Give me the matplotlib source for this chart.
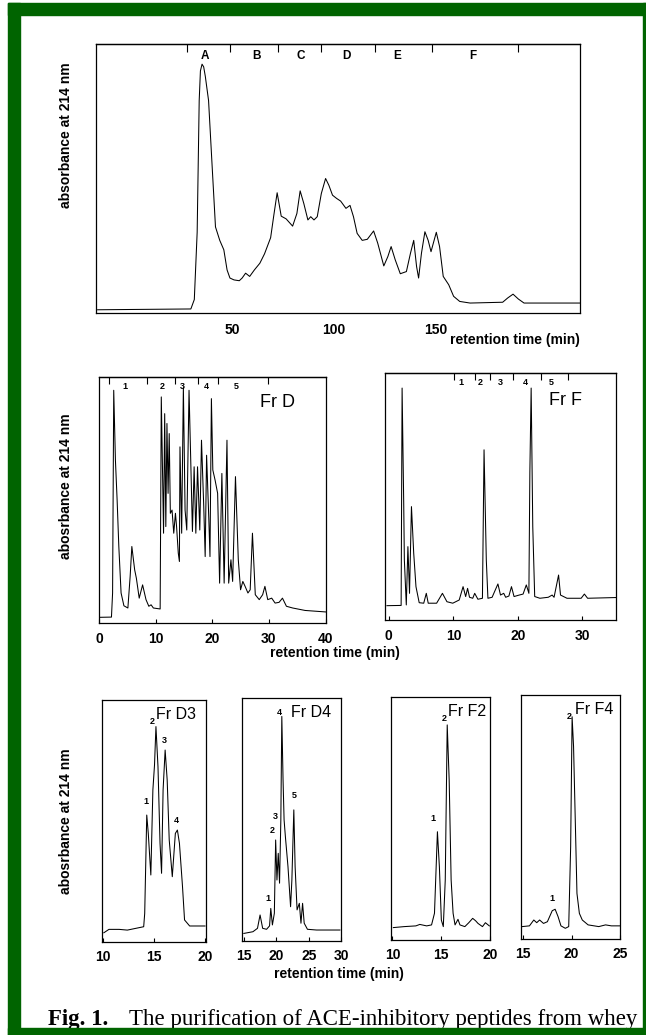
import matplotlib
matplotlib.use("Agg")
import matplotlib.pyplot as plt
from matplotlib.patches import Rectangle

plt.rcParams["font.family"] = ["Liberation Sans", "DejaVu Sans"]
plt.rcParams["font.weight"] = "bold"

W, H = 646, 1035

# --- first separation (whole hydrolysate) ---
top_t = [-16, 29.8, 31.5, 32.9, 33.9, 34.5, 35.3, 36.1, 36.9, 38.5, 40.3, 41.9, 44, 46,
         47.6, 49, 51, 53.6, 55, 56.7, 58.7, 61, 63.7, 66, 69, 70.5, 72.2, 74.2, 76.6,
         79.8, 81.9, 83.5, 85.3, 87.3, 88.7, 90.3, 91.9, 93.9, 96, 97.6, 99.4, 101.4,
         103.4, 106, 108, 109.7, 111.5, 114, 116.5, 119.6, 121.6, 124.6, 126.6, 128.2,
         130.2, 132.7, 135.7, 137.7, 139.3, 140.7, 141.7, 143.1, 144.8, 146.4, 147.8,
         150.4, 152, 153.8, 156.5, 158.9, 161.9, 167, 183, 185.5, 188.1, 190.7, 193.5,
         220.8]
top_a = [1.2, 1.5, 5, 30, 79, 90, 92.5, 91.5, 88, 79, 54, 32, 27, 23.5,
         16, 13, 12.3, 12, 13, 14.8, 13.6, 16, 18.5, 22, 28, 36, 44.7, 36, 35,
         32.3, 37, 45.4, 40.7, 34.6, 35.8, 34.6, 35.8, 44.4, 50, 47.5, 43.8, 42.6,
         41.6, 38.9, 40, 35.8, 29.6, 27, 27.4, 30.5, 26, 17.5, 21, 24.7,
         19.8, 14.6, 15.4, 22.2, 27, 17.3, 13, 22.2, 30.2, 27, 22.8,
         30, 24.7, 13.6, 10.5, 6.2, 4.3, 3.7, 4, 5.6, 7, 5.2, 3.7,
         3.7]
top_ticks = [50, 100, 150]
top_edges = [27.9, 48.9, 72.7, 93.6, 120.2, 148.1, 190.5]
top_names = ["A", "B", "C", "D", "E", "F"]
top_name_x = [36.8, 62.2, 83.9, 106, 131.3, 168.3]

# --- fraction D ---
frd_t = [-0.1, 2.2, 2.4, 2.6, 2.9, 3.2, 3.5, 3.9, 4.4, 5.1, 5.5, 5.8, 6.3, 6.6, 7.1, 7.7,
         8.3, 8.8, 9.2, 9.6, 10.8, 11.0, 11.4, 11.6, 11.8, 12.0, 12.2, 12.4, 12.6, 12.9,
         13.2, 13.5, 13.7, 14.0, 14.2, 14.3, 14.6, 14.9, 15.2, 15.5, 15.9, 16.2, 16.5,
         16.8, 17.1, 17.4, 17.8, 18.1, 18.5, 18.75, 19.0, 19.4, 19.6, 19.85, 20.1, 20.5,
         20.95, 21.3, 21.7, 22.1, 22.6, 22.9, 23.3, 23.6, 24.1, 24.6, 25.0, 25.4, 25.8,
         26.3, 26.7, 27.1, 27.6, 28.3, 28.9, 29.3, 29.8, 30.5, 31.1, 31.8, 32.4, 33.1,
         34.2, 36.4, 40.0]
frd_a = [2.3, 2.4, 12.2, 94.6, 66.2, 50, 31.1, 12.2, 7, 6.1, 18.9, 31.1, 21.6, 18.2, 10.1, 15.5,
         9.5, 6.8, 7.4, 6.1, 5.7, 91.9, 36.5, 85.1, 39.2, 81.1, 52.7, 77, 44.6, 45.9,
         36.5, 44.6, 39.2, 28.4, 25, 71.6, 36.5, 95.9, 45.9, 37.8, 94.6, 66.2, 37.2,
         63.5, 36.5, 63.5, 37.8, 74.3, 47.3, 27, 68.2, 41.9, 27, 91.2, 62.2, 58.1,
         52.7, 16.2, 60.8, 16.2, 74.3, 16.2, 25.7, 16.9, 59.5, 25.7, 13.5, 16.9, 14.9,
         12.2, 13.5, 36.5, 11.5, 9.5, 11.5, 14.9, 9.5, 10.1, 8.1, 8.4, 10.1, 6.8,
         6.1, 5.1, 4.5]
frd_ticks = [0, 10, 20, 30, 40]
frd_edges = [1.7, 8.5, 13.5, 17.5, 21.1, 29.8]
frd_names = ["1", "2", "3", "4", "5"]
frd_name_x = [4.6, 11.1, 14.8, 18.9, 24.3]

# --- fraction F ---
frf_t = [-0.3, 1.9, 2.05, 2.3, 2.4, 2.7, 2.95, 3.2, 3.5, 3.85, 4.2, 4.7, 5.4, 5.8, 6.1, 7.4,
         8.3, 9.0, 9.9, 10.9, 11.5, 11.9, 12.2, 12.5, 13.0, 13.3, 13.8, 14.5, 14.75, 15.1,
         15.35, 16.0, 16.9, 17.3, 17.8, 18.1, 18.6, 19.0, 19.4, 20.2, 20.8, 21.3, 21.7,
         21.85, 22.05, 22.3, 22.6, 23.4, 24.7, 25.3, 25.6, 26.3, 26.6, 27.6, 29.8, 30.3,
         30.8, 35.3]
frf_a = [5.8, 5.9, 93.9, 47.3, 24.3, 6.1, 29.7, 10.8, 45.9, 27, 13.5, 7, 6.8, 10.8, 6.8, 6.8,
         10.8, 7.4, 6.8, 8.1, 13.5, 9.5, 12.8, 9.2, 8.8, 10.8, 8.4, 8.8, 68.9, 24.3,
         8.8, 9.2, 14.6, 10.1, 10.8, 9.2, 9.7, 13.5, 9.5, 10.1, 10.5, 14.2, 10.8,
         60, 93.9, 37.8, 9.5, 8.8, 9.2, 10.1, 9.2, 18.2, 10.1, 8.8, 8.8, 10.5,
         8.8, 9.1]
frf_ticks = [0, 10, 20, 30]
frf_edges = [10.1, 13.3, 15.7, 19.2, 23.6, 27.8]
frf_names = ["1", "2", "3", "4", "5"]
frf_name_x = [11.2, 14.1, 17.3, 21.2, 25.2]

# --- sub-fractions ---
d3_t = [10.1, 10.6, 11.6, 12.4, 13.2, 14.0, 14.1, 14.3, 14.45, 14.7, 14.9, 15.06, 15.2, 15.4,
        15.6, 15.75, 15.9, 16.1, 16.3, 16.5, 16.8, 17.1, 17.3, 17.5, 17.8, 18.0, 18.5, 19.3, 20.0]
d3_a = [3.7, 5.1, 5.1, 4.8, 5.5, 6.2, 11.7, 52.4, 44.8, 27.6, 62.8, 73.1, 89, 72.4,
        40.7, 28.3, 62.8, 79.3, 66.9, 42.1, 26.9, 44.8, 46.2, 40.7, 22.8, 9, 6.5, 6.5, 6.5]
d3_peaks = ["1", "3", "4"]
d3_peak_x = [14.25, 16.0, 17.2]
d3_peak_y = [58, 83.4, 50.3]

d4_t = [15.0, 16.4, 17.1, 17.5, 17.9, 18.5, 18.96, 19.15, 19.4, 19.7, 19.9, 20.1, 20.3, 20.5,
        20.7, 20.85, 21.04, 21.2, 21.4, 21.8, 22.2, 22.4, 22.7, 22.9, 23.2, 23.55, 23.8,
        24.05, 24.3, 24.8, 26.2, 29.8]
d4_a = [3, 3.7, 5.1, 10.6, 5.1, 4.7, 6.1, 13.3, 6.5, 11.3, 41.5, 25, 36, 23.7,
        49.8, 92.4, 66.3, 49.8, 42.9, 30.5, 14, 25, 53.9, 30.5, 12.7, 15.4, 7.2,
        15.4, 7.2, 4.7, 4.4, 4.4]
d4_peaks = ["1", "2", "3", "4", "5"]
d4_peak_x = [18.65, 19.3, 19.9, 20.4, 22.7]
d4_peak_y = [17.2, 45.4, 51, 94, 60]

f2_t = [10.1, 11.2, 12.4, 12.8, 13.5, 14.0, 14.3, 14.6, 14.8, 15.0, 15.2, 15.4, 15.6, 15.8,
        16.0, 16.2, 16.4, 16.7, 16.9, 17.4, 17.8, 18.2, 18.5, 18.75, 19.2, 19.5, 19.9]
f2_a = [5.1, 5.5, 5.8, 6.4, 5.8, 6.2, 11, 44.5, 30.1, 8.2, 5.5, 24.7, 88.4, 65.8,
        24.7, 11, 6.2, 8.5, 6.2, 5.5, 7.1, 8.9, 7.9, 6.8, 5.5, 7.1, 5.8]
f2_peaks = ["1"]
f2_peak_x = [14.1]
f2_peak_y = [50]

f4_t = [14.9, 15.65, 16.1, 16.4, 16.7, 17.1, 17.5, 18.0, 18.3, 18.6, 18.9, 19.35, 19.7, 19.9,
        20.05, 20.2, 20.4, 20.55, 20.8, 21.1, 21.7, 22.8, 23.5, 24.1, 25.2]
f4_a = [5.2, 5.5, 7.9, 6.8, 7.9, 6.5, 7.2, 11.7, 12.3, 9.3, 5.5, 4.5, 5.2, 37.9,
        91.1, 78.9, 44.7, 18.8, 10.6, 7.9, 5.9, 5.2, 5.9, 5.5, 5.5]
f4_peaks = ["1"]
f4_peak_x = [18.0]
f4_peak_y = [16.5]


def rect(left, top, right, bottom):
    return [left / W, 1 - bottom / H, (right - left) / W, (bottom - top) / H]


def trace(ax, t, a, xlim, xticks, pad, tick_len=3):
    ax.plot(t, a, color="black", lw=0.75)
    ax.set_xlim(*xlim)
    ax.set_ylim(0, 100)
    ax.set_yticks([])
    ax.set_xticks(xticks)
    ax.tick_params(axis="x", direction="in", length=tick_len, width=0.8,
                   pad=pad, labelsize=10)
    for s in ax.spines.values():
        s.set_linewidth(0.9)


def fractions(ax, edges, names, name_x, ypos, size, length):
    sec = ax.secondary_xaxis("top")
    sec.set_xticks(edges)
    sec.tick_params(direction="in", length=length, width=0.8, labeltop=False)
    sec.spines["top"].set_linewidth(0.9)
    for n, x in zip(names, name_x):
        ax.text(x, ypos, n, transform=ax.get_xaxis_transform(),
                ha="center", va="center", fontsize=size)


def peak_labels(ax, names, xs, ys):
    for n, x, y in zip(names, xs, ys):
        ax.text(x, y, n, ha="center", va="center", fontsize=6.5)


fig = plt.figure(figsize=(W / 100, H / 100), dpi=100)

ax = fig.add_axes(rect(95.6, 44, 580, 313))
trace(ax, top_t, top_a, (-17, 221), top_ticks, pad=7, tick_len=0)
fractions(ax, top_edges, top_names, top_name_x, 0.955, 8.5, 6)
ax.text(1.0, -0.1, "retention time (min)", transform=ax.transAxes,
        ha="right", va="center", fontsize=10)

ax = fig.add_axes(rect(99, 377, 325.5, 623))
trace(ax, frd_t, frd_a, (0, 40), frd_ticks, pad=6.5)
fractions(ax, frd_edges, frd_names, frd_name_x, 0.963, 6.5, 5)
ax.text(31.6, 0.895, "Fr D", transform=ax.get_xaxis_transform(),
        ha="center", va="center", fontsize=13, fontweight="normal")

ax = fig.add_axes(rect(385, 373, 616, 620))
trace(ax, frf_t, frf_a, (-0.6, 35.2), frf_ticks, pad=6.5)
fractions(ax, frf_edges, frf_names, frf_name_x, 0.963, 6.5, 5)
ax.text(27.4, 0.89, "Fr F", transform=ax.get_xaxis_transform(),
        ha="center", va="center", fontsize=13, fontweight="normal")

subs = [
    (rect(101.8, 700, 206, 941.7), d3_t, d3_a, (9.9, 20.1), [10, 15, 20], "Fr D3", 15.25,
     d3_peaks, d3_peak_x, d3_peak_y, 14.8),
    (rect(241.9, 698, 341.2, 940.7), d4_t, d4_a, (14.7, 29.9), [15, 20, 25, 30], "Fr D4", 22.3,
     d4_peaks, d4_peak_x, d4_peak_y, None),
    (rect(391.4, 696.7, 490.3, 940), f2_t, f2_a, (9.9, 19.9), [10, 15, 20], "Fr F2", 15.7,
     f2_peaks, f2_peak_x, f2_peak_y, 15.3),
    (rect(521.2, 695, 620.1, 939.3), f4_t, f4_a, (14.8, 25), [15, 20, 25], "Fr F4", 20.4,
     f4_peaks, f4_peak_x, f4_peak_y, 19.8),
]
for pos, t, a, xlim, ticks, name, name_x, pk, px, py, two_x in subs:
    ax = fig.add_axes(pos)
    trace(ax, t, a, xlim, ticks, pad=5.8)
    ax.text(name_x, 94, name, ha="left", va="center", fontsize=11.5, fontweight="normal")
    if two_x is not None:
        ax.text(two_x, 91, "2", ha="center", va="center", fontsize=6.5)
    peak_labels(ax, pk, px, py)

fig.text(334.6 / W, 1 - 652.7 / H, "retention time (min)", ha="center", va="center", fontsize=10)
fig.text(338.7 / W, 1 - 974 / H, "retention time (min)", ha="center", va="center", fontsize=10)

for yc, label in [(135.5, "absorbance at 214 nm"), (486.5, "abosrbance at 214 nm"),
                  (821, "abosrbance at 214 nm")]:
    fig.text(66 / W, 1 - yc / H, label, rotation=90, ha="center", va="center", fontsize=10)

# caption
fig.text(48 / W, 1 - 1025 / H, "Fig. 1.", family="Liberation Serif", fontweight="bold",
         fontsize=16.5, va="baseline", ha="left")
fig.text(637 / W, 1 - 1025 / H, "The purification of ACE-inhibitory peptides from whey",
         family="Liberation Serif", fontweight="normal", fontsize=16.5,
         va="baseline", ha="right")

# green frame
green = "#006400"
for x0, y0, x1, y1 in [(8, 3, 646, 15), (8, 3, 20, 1035), (643, 3, 646, 1035), (8, 1028, 646, 1035)]:
    fig.patches.append(Rectangle((x0 / W, 1 - y1 / H), (x1 - x0) / W, (y1 - y0) / H,
                                 transform=fig.transFigure, color=green, zorder=10))

fig.savefig("out.png", dpi=100)
